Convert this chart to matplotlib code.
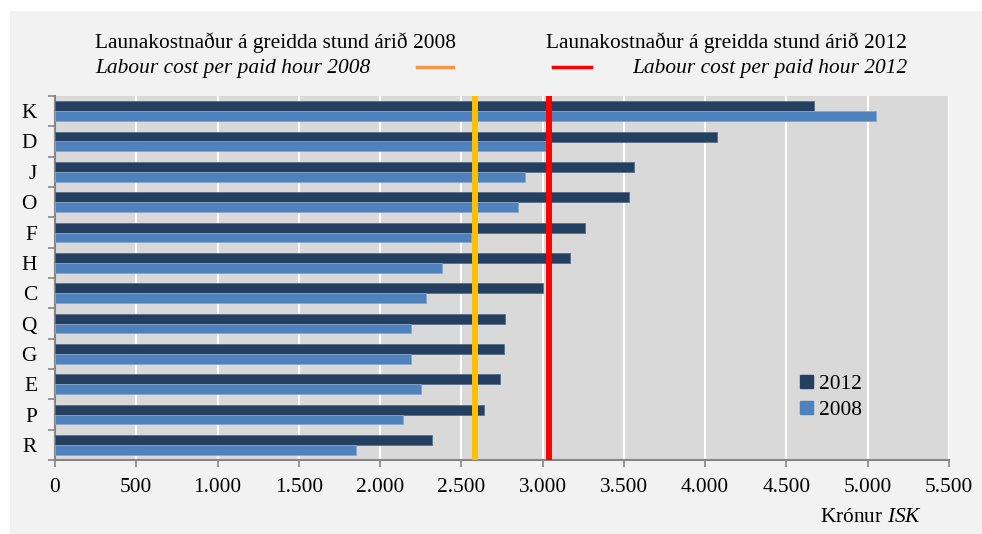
import matplotlib
matplotlib.use("Agg")
import matplotlib.pyplot as plt
from matplotlib.lines import Line2D
from matplotlib.patches import Rectangle, Patch
import numpy as np

# Data (ISK per paid hour)
categories = ["K", "D", "J", "O", "F", "H", "C", "Q", "G", "E", "P", "R"]
cost_2012 = [4670, 4070, 3560, 3530, 3260, 3170, 3000, 2770, 2760, 2740, 2640, 2320]
cost_2008 = [5050, 3020, 2890, 2850, 2560, 2380, 2280, 2190, 2190, 2250, 2140, 1850]
avg_2008 = 2582
avg_2012 = 3039
xticks = [0, 500, 1000, 1500, 2000, 2500, 3000, 3500, 4000, 4500, 5000, 5500]
xtick_labels = ["0", "500", "1.000", "1.500", "2.000", "2.500", "3.000",
                "3.500", "4.000", "4.500", "5.000", "5.500"]

plt.rcParams['font.family'] = ['Liberation Serif', 'DejaVu Serif']
plt.rcParams['mathtext.fontset'] = 'custom'
plt.rcParams['mathtext.rm'] = 'Liberation Serif'
plt.rcParams['mathtext.it'] = 'Liberation Serif:italic'

FS = 15.4
W, H = 982, 534
fig = plt.figure(figsize=(W / 100, H / 100), dpi=100)
fig.patch.set_facecolor('white')

# grey outer panel
fig.patches.append(Rectangle((10 / W, 0), 1 - 10 / W, 1 - 11 / H, transform=fig.transFigure,
                             facecolor='#f2f2f2', edgecolor='none', zorder=-10))

ax = fig.add_axes([55 / W, (H - 460) / H, (949 - 55) / W, (460 - 96) / H])
ax.set_facecolor('#d9d9d9')

dark = '#243f60'
light = '#4f81bd'
y = np.arange(len(categories))[::-1]
bh = 0.32
ax.barh(y + bh / 2, cost_2012, height=bh, color=dark, edgecolor='#5a6f8a', linewidth=0.6, zorder=3)
ax.barh(y - bh / 2, cost_2008, height=bh, color=light, edgecolor='#8aa6cc', linewidth=0.6, zorder=3)

ax.axvline(avg_2008, color='#ffc000', linewidth=4.3, zorder=4)
ax.axvline(avg_2012, color='#ff0000', linewidth=4.3, zorder=4)

ax.set_xlim(0, 5500)
ax.set_ylim(-0.5, len(categories) - 0.5)
ax.set_xticks(xticks)
ax.set_xticklabels(xtick_labels, fontsize=FS)
ax.xaxis.grid(True, color='white', linewidth=1.5, zorder=1)
ax.set_axisbelow(True)

ax.set_yticks(np.arange(len(categories) + 1) - 0.5)
ax.set_yticklabels([])
ax.set_yticks(y, minor=True)
ax.set_yticklabels(categories, minor=True, fontsize=FS)
ax.tick_params(axis='y', which='minor', length=0, pad=13)
ax.tick_params(axis='y', which='major', length=5, color='#868686', width=1.2)
ax.tick_params(axis='x', length=5, color='#868686', width=1.2, pad=8)

for s in ['top', 'right']:
    ax.spines[s].set_visible(False)
for s in ['left', 'bottom']:
    ax.spines[s].set_color('#868686')
    ax.spines[s].set_linewidth(1.5)

handles = [Patch(color=dark, label='2012'), Patch(color=light, label='2008')]
ax.legend(handles=handles, loc='center left', bbox_to_anchor=(0.812, 0.172), frameon=False,
          fontsize=FS, handlelength=0.6, handleheight=0.6, handletextpad=0.3, labelspacing=0.3)

def fx(px):
    return px / W

def fy(py):
    return (H - py) / H

fig.text(fx(95), fy(43), "Launakostnaður á greidda stund árið 2008", fontsize=FS, ha='left', va='center')
fig.text(fx(95), fy(68), "Labour cost per paid hour 2008", fontsize=FS, style='italic', ha='left', va='center')
fig.lines.append(Line2D([fx(417), fx(453)], [fy(67), fy(67)], transform=fig.transFigure,
                        color='#f79646', linewidth=2.5))
fig.text(fx(907), fy(43), "Launakostnaður á greidda stund árið 2012", fontsize=FS, ha='right', va='center')
fig.text(fx(907), fy(68), "Labour cost per paid hour 2012", fontsize=FS, style='italic', ha='right', va='center')
fig.lines.append(Line2D([fx(553), fx(591)], [fy(67), fy(67)], transform=fig.transFigure,
                        color='#ff0000', linewidth=2.5))

fig.text(fx(922), fy(518), r"Krónur $\mathit{ISK}$", fontsize=FS, ha='right', va='center')

fig.savefig('out.png', dpi=100, facecolor=fig.get_facecolor())
